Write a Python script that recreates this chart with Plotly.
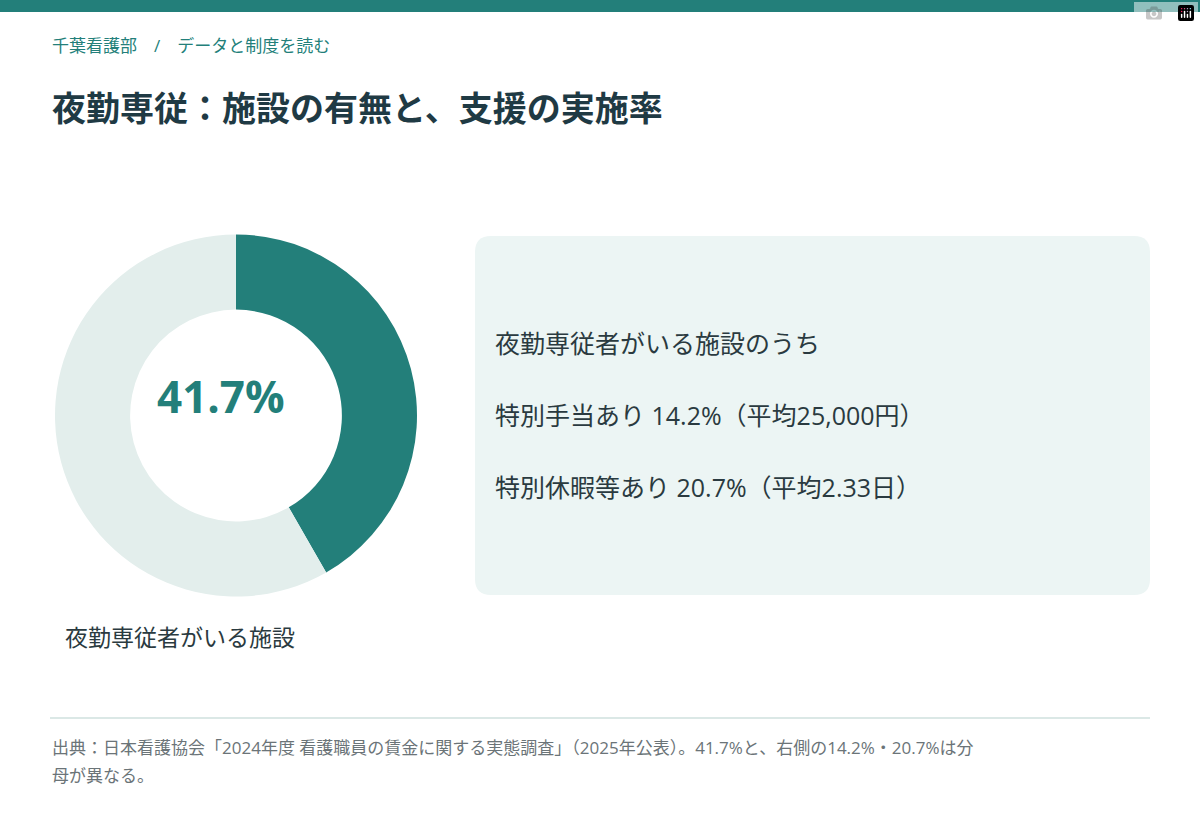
import plotly.graph_objects as go

labels = ["夜勤専従者がいる施設", "いない施設"]
values = [41.7, 58.3]
colors = ["#237f7a", "#e3eeec"]
center_text = "41.7%"
panel_lines = ["夜勤専従者がいる施設のうち", "特別手当あり 14.2%（平均25,000円）", "特別休暇等あり 20.7%（平均2.33日）"]

W, H = 1200, 820
def px(x): return x / W
def py(y): return 1 - y / H

fig = go.Figure(go.Pie(labels=labels, values=values, hole=0.585, sort=False, direction="clockwise",
                       rotation=0, marker=dict(colors=colors, line=dict(width=0)), textinfo="none",
                       hoverinfo="skip", showlegend=False,
                       domain=dict(x=[px(55), px(417)], y=[py(597), py(234)])))

F = "Open Sans, Noto Sans CJK JP"
shapes = [
    dict(type="rect", xref="paper", yref="paper", x0=0, x1=1, y0=py(12), y1=1, fillcolor="#237f7a", line=dict(width=0)),
    dict(type="path", xref="paper", yref="paper",
         path=f"M {px(491)},{py(236)} L {px(1134)},{py(236)} Q {px(1150)},{py(236)} {px(1150)},{py(252)} "
              f"L {px(1150)},{py(579)} Q {px(1150)},{py(595)} {px(1134)},{py(595)} L {px(491)},{py(595)} "
              f"Q {px(475)},{py(595)} {px(475)},{py(579)} L {px(475)},{py(252)} Q {px(475)},{py(236)} {px(491)},{py(236)} Z",
         fillcolor="#ecf5f4", line=dict(width=0)),
    dict(type="line", xref="paper", yref="paper", x0=px(50), x1=px(1150), y0=py(718), y1=py(718), line=dict(color="#cfe0de", width=1.5)),
]

def ann(x, y, t, size, color, anchor="left", bold=False):
    return dict(x=px(x), y=py(y), xref="paper", yref="paper", text=f"<b>{t}</b>" if bold else t, showarrow=False,
                xanchor=anchor, yanchor="middle", font=dict(family=F, size=size, color=color))

anns = [
    ann(50, 45, "千葉看護部　/　データと制度を読む", 17, "#237f7a"),
    ann(50, 108, "夜勤専従：施設の有無と、支援の実施率", 34, "#1f3a44", bold=True),
    ann(221, 396, center_text, 44, "#237f7a", anchor="center", bold=True),
    ann(63, 637, labels[0], 23, "#2a3a40"),
    ann(50, 747, "出典：日本看護協会「2024年度 看護職員の賃金に関する実態調査」（2025年公表）。41.7%と、右側の14.2%・20.7%は分", 17, "#6b7478"),
    ann(50, 775, "母が異なる。", 17, "#6b7478"),
]
for t, y in zip(panel_lines, [343, 415, 487]):
    anns.append(ann(493, y, t, 25, "#2a3a40"))

fig.update_layout(width=W, height=H, margin=dict(l=0, r=0, t=0, b=0), paper_bgcolor="white",
                  plot_bgcolor="white", shapes=shapes, annotations=anns)
fig.write_html("out.html", post_script="document.body.style.margin='0';")
